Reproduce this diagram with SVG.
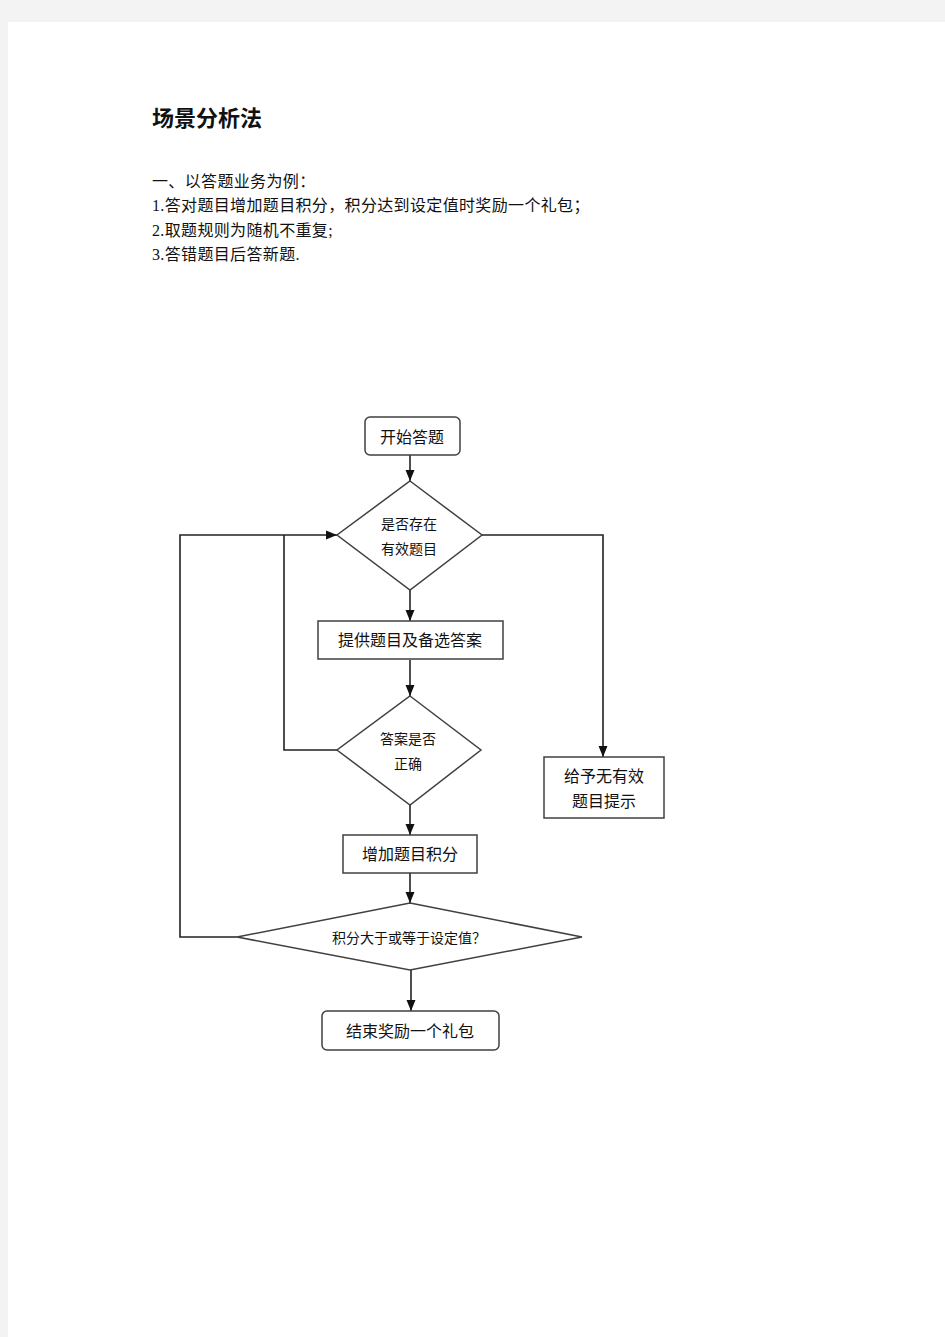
<svg xmlns="http://www.w3.org/2000/svg" width="945" height="1337" viewBox="0 0 945 1337">
<defs>
<style>
.bg{fill:#f3f3f3}
.page{fill:#ffffff}
.title{font-family:"Liberation Serif","Noto Sans CJK SC",serif;font-size:22px;font-weight:bold;fill:#111}
.body{font-family:"Liberation Serif","Noto Sans CJK SC",serif;font-size:16px;fill:#111;letter-spacing:0.35px}
.node{fill:#ffffff;stroke:#404040;stroke-width:1.5}
.lbl{font-family:"Noto Sans CJK SC",sans-serif;font-size:16px;fill:#111;text-anchor:middle;dominant-baseline:central}
.lbls{font-family:"Noto Sans CJK SC",sans-serif;font-size:14px;fill:#111;text-anchor:middle;dominant-baseline:central}
.edge{fill:none;stroke:#222;stroke-width:1.6}
</style>
<marker id="arr" markerUnits="userSpaceOnUse" markerWidth="12" markerHeight="10" refX="11" refY="5" orient="auto">
<path d="M0,0.5 L11,5 L0,9.5 z" fill="#111"/>
</marker>
</defs>
<rect class="bg" x="0" y="0" width="945" height="1337"/>
<rect class="page" x="8" y="22" width="937" height="1315"/>

<g id="header">
<text class="title" x="152" y="126">场景分析法</text>
<text class="body" x="152" y="187">一、以答题业务为例：</text>
<text class="body" x="152" y="211">1.答对题目增加题目积分，积分达到设定值时奖励一个礼包；</text>
<text class="body" x="152" y="236">2.取题规则为随机不重复;</text>
<text class="body" x="152" y="260">3.答错题目后答新题.</text>
</g>

<g id="connectors">
<line class="edge" x1="410" y1="455" x2="410" y2="481" marker-end="url(#arr)"/>
<line class="edge" x1="410" y1="590" x2="410" y2="621" marker-end="url(#arr)"/>
<line class="edge" x1="410" y1="660" x2="410" y2="696" marker-end="url(#arr)"/>
<line class="edge" x1="410" y1="805" x2="410" y2="835" marker-end="url(#arr)"/>
<line class="edge" x1="410" y1="873" x2="410" y2="903" marker-end="url(#arr)"/>
<line class="edge" x1="411" y1="970" x2="411" y2="1011" marker-end="url(#arr)"/>
<polyline class="edge" points="482,535 603,535 603,757" marker-end="url(#arr)"/>
<polyline class="edge" points="337,750 284,750 284,535"/>
<polyline class="edge" points="237,937 180,937 180,535 337,535" marker-end="url(#arr)"/>
</g>

<g id="start">
<rect class="node" x="365" y="417" width="95" height="38" rx="5"/>
<text class="lbl" x="412" y="436">开始答题</text>
</g>

<g id="check-valid">
<polygon class="node" points="410,481 482,535 410,590 337,535"/>
<text class="lbls" x="409" y="523">是否存在</text>
<text class="lbls" x="409" y="548">有效题目</text>
</g>

<g id="provide">
<rect class="node" x="318" y="621" width="185" height="38"/>
<text class="lbl" x="410" y="639">提供题目及备选答案</text>
</g>

<g id="check-correct">
<polygon class="node" points="410,696 481,750 410,805 337,750"/>
<text class="lbls" x="408" y="738">答案是否</text>
<text class="lbls" x="408" y="763">正确</text>
</g>

<g id="add-score">
<rect class="node" x="343" y="835" width="134" height="38"/>
<text class="lbl" x="410" y="853">增加题目积分</text>
</g>

<g id="check-score">
<polygon class="node" points="410,903 582,937 410,970 237,937"/>
<text class="lbls" x="409" y="937">积分大于或等于设定值？</text>
</g>

<g id="end">
<rect class="node" x="322" y="1011" width="177" height="39" rx="5"/>
<text class="lbl" x="410" y="1030">结束奖励一个礼包</text>
</g>

<g id="no-valid">
<rect class="node" x="544" y="757" width="120" height="61"/>
<text class="lbl" x="604" y="775">给予无有效</text>
<text class="lbl" x="604" y="800">题目提示</text>
</g>
</svg>
